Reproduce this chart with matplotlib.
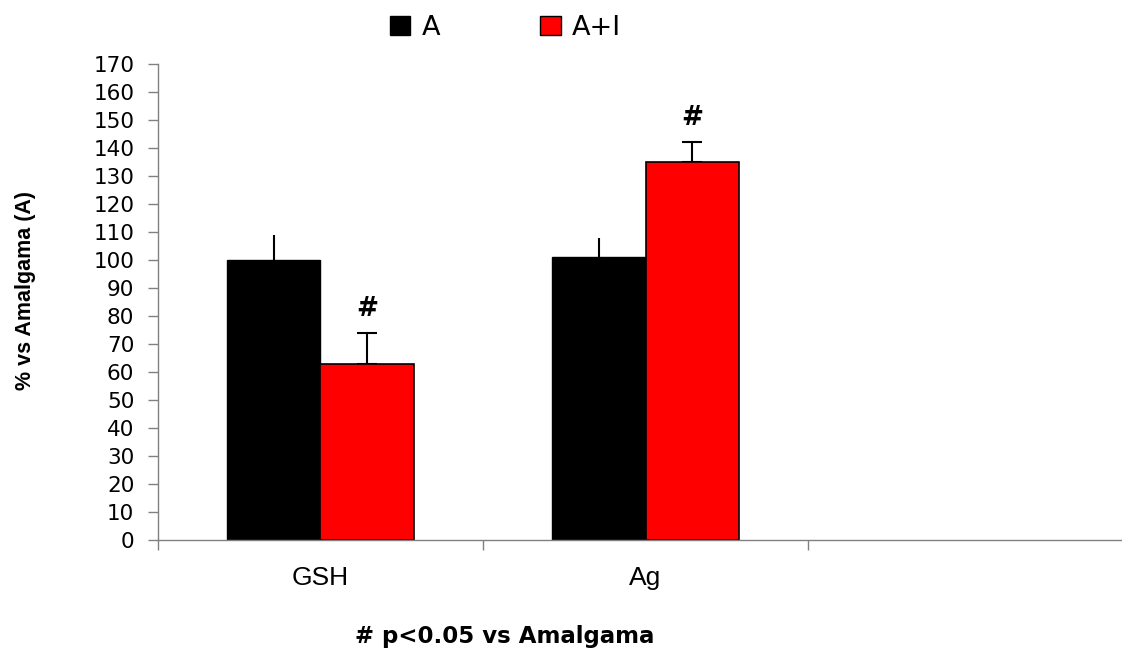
import numpy as np
import matplotlib.pyplot as plt
from matplotlib.patches import Patch

# data: % relative to amalgam group
categories = ['GSH', 'Ag']
a_vals = [100, 101]
a_err = [9, 7]
ai_vals = [63, 135]
ai_err = [11, 7]
significant = [True, True]   # A+I vs A, p<0.05

fig = plt.figure(figsize=(11.22, 6.52), dpi=100)
ax = fig.add_axes([0.1408, 0.1718, 0.8592, 0.730])

x = np.arange(len(categories)) + 0.5
w = 0.288
ax.bar(x - w / 2, a_vals, w, color='black', edgecolor='black', linewidth=1, zorder=2)
ax.bar(x + w / 2, ai_vals, w, color='#ff0000', edgecolor='black', linewidth=1.2, zorder=2)

# upper error bars only
ax.errorbar(x - w / 2, a_vals, yerr=[np.zeros(len(a_err)), a_err], fmt='none',
            ecolor='black', elinewidth=1.5, capsize=0, zorder=1)
ax.errorbar(x + w / 2, ai_vals, yerr=[np.zeros(len(ai_err)), ai_err], fmt='none',
            ecolor='black', elinewidth=1.5, capsize=7, capthick=1.5, zorder=1)

for xi, v, e, s in zip(x, ai_vals, ai_err, significant):
    if s:
        ax.annotate('#', (xi + w / 2, v + e), xytext=(0, 8), textcoords='offset points',
                    ha='center', va='bottom', fontsize=19, fontweight='bold')

ax.set_xlim(0, 2.966)
ax.set_ylim(0, 170)
ax.set_yticks(np.arange(0, 171, 10))
ax.set_xticks([0, 1, 2])
ax.set_xticklabels([])
ax.set_xticks(x, minor=True)
ax.set_xticklabels(categories, minor=True, fontsize=19, family='Liberation Sans')
ax.tick_params(axis='x', which='minor', length=0, pad=19)
ax.tick_params(axis='x', which='major', length=7, color='#808080', width=1)
ax.tick_params(axis='y', length=7, color='#808080', width=1, pad=10, labelsize=15.5)

for side in ['top', 'right']:
    ax.spines[side].set_visible(False)
for side in ['left', 'bottom']:
    ax.spines[side].set_color('#808080')
    ax.spines[side].set_linewidth(1)

fig.text(26 / 1122, 1 - 291 / 652, '% vs Amalgama (A)', rotation=90, ha='center', va='center',
         fontsize=15.5, fontweight='bold', family='Liberation Sans')
fig.text(505 / 1122, 1 - 636 / 652, '# p<0.05 vs Amalgama', ha='center', va='center',
         fontsize=16.5, fontweight='bold')

handles = [Patch(facecolor='black', edgecolor='black', label='A'),
           Patch(facecolor='#ff0000', edgecolor='black', label='A+I')]
fig.legend(handles=handles, loc='center', bbox_to_anchor=(0.4505, 0.957), ncol=2,
           frameon=False, fontsize=19.5, handlelength=0.75, handleheight=0.72,
           handletextpad=0.43, columnspacing=3.7)

fig.savefig('out.png', dpi=100)
